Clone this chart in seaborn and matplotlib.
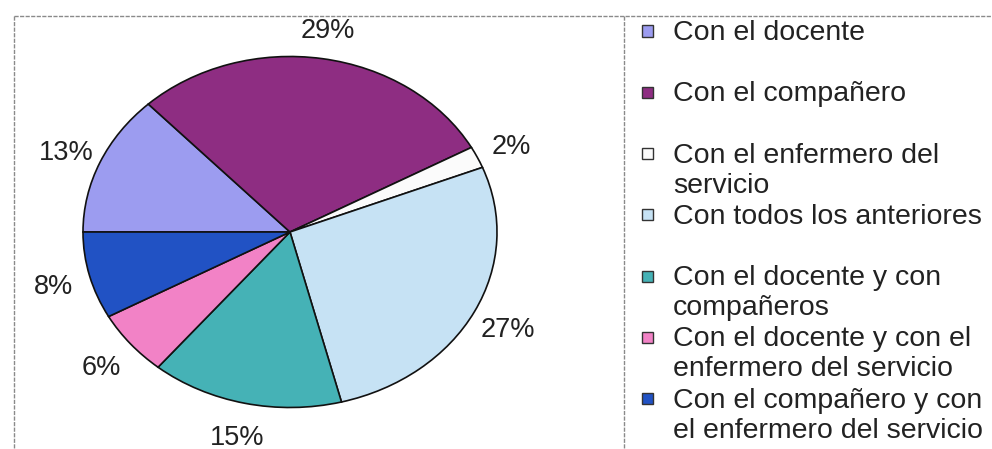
import matplotlib
matplotlib.use("Agg")
import matplotlib.pyplot as plt
import seaborn as sns
from matplotlib.lines import Line2D
from matplotlib.patches import Rectangle

categories = [
    "Con el docente",
    "Con el compañero",
    "Con el enfermero del\nservicio",
    "Con todos los anteriores",
    "Con el docente y con\ncompañeros",
    "Con el docente y con el\nenfermero del servicio",
    "Con el compañero y con\nel enfermero del servicio",
]
values = [13, 29, 2, 27, 15, 6, 8]
colors = ["#9c9cf0", "#8e2d82", "#fbfbfb", "#c6e2f4", "#45b2b6", "#f282c6", "#2152c4"]

sns.set_style("white")
plt.rcParams["font.family"] = ["Liberation Sans", "DejaVu Sans"]

W, H = 992, 449
fig = plt.figure(figsize=(W / 100, H / 100), dpi=100)
fig.patch.set_facecolor("white")

def fx(px):
    return px / W

def fy(py):
    return 1 - py / H

# pie axes (elliptical pie, as in the reference)
cx, cy, rx, ry = 290, 232, 207, 175.5
ax = fig.add_axes([fx(cx - rx), fy(cy + ry), 2 * rx / W, 2 * ry / H])
wedges, texts, autotexts = ax.pie(
    values,
    colors=colors,
    startangle=180,
    counterclock=False,
    autopct=lambda p: f"{p:.0f}%",
    pctdistance=1.18,
    wedgeprops=dict(edgecolor="#111111", linewidth=1.2),
    textprops=dict(fontsize=19.5, color="#222222"),
)
for t in autotexts:
    x, y = t.get_position()
    t.set_position((x, y - 0.02))
ax.set_aspect("auto")
ax.set_xlim(-1, 1)
ax.set_ylim(-1, 1)
ax.axis("off")

# frame lines
frame_kw = dict(color="#8a8a8a", linewidth=1.0, linestyle=(0, (3, 1)), transform=fig.transFigure)
fig.add_artist(Line2D([fx(14), fx(W)], [fy(16), fy(16)], **frame_kw))
fig.add_artist(Line2D([fx(14), fx(14)], [fy(16), fy(H)], **frame_kw))
fig.add_artist(Line2D([fx(624), fx(624)], [fy(16), fy(H)], **frame_kw))

# legend (manual, Excel-style)
for i, (lab, col) in enumerate(zip(categories, colors)):
    base = 40 + i * 61.3
    lines = lab.split("\n")
    for j, line in enumerate(lines):
        fig.text(fx(673), fy(base + j * 30), line, fontsize=20.5, color="#222222",
                 ha="left", va="baseline")
    mid = base - 9
    fig.add_artist(Rectangle((fx(642), fy(mid + 5.5)), 11 / W, 11 / H,
                             facecolor=col, edgecolor="#333333", linewidth=1.0,
                             transform=fig.transFigure))

fig.savefig("out.png", dpi=100)
